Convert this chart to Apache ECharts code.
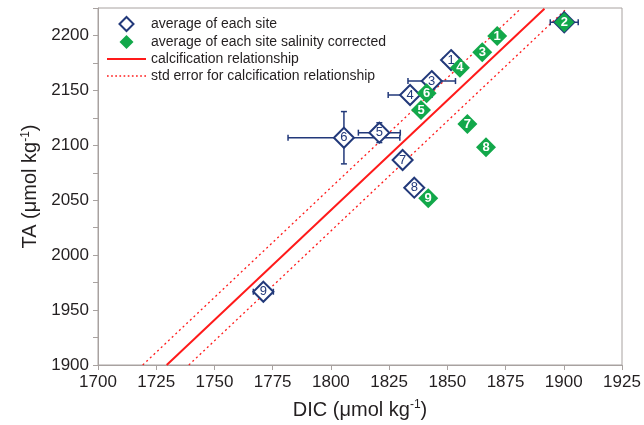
<!DOCTYPE html>
<html><head><meta charset="utf-8">
<script src="https://cdn.jsdelivr.net/npm/echarts@6/dist/echarts.min.js"></script>
<style>html,body{margin:0;padding:0;background:#fff}#c{width:644px;height:425px}</style>
</head><body><div id="c"></div>
<script>
// Site labels
const siteLabels = ['1','2','3','4','5','6','7','8','9'];
// average of each site (DIC, TA) with errors
const siteDIC = [1851.6, 1900.2, 1843.3, 1834.0, 1820.8, 1805.6, 1830.8, 1835.8, 1771.0];
const siteTA  = [2177.6, 2212.0, 2158.5, 2145.8, 2111.5, 2106.9, 2086.6, 2061.4, 1966.7];
const siteDICerr = [3.3, 6.0, 10.2, 9.4, 9.0, 24.0, 0, 0, 4.3];
const siteTAerr  = [0, 0, 0, 0, 9.0, 23.8, 0, 0, 0];
// salinity corrected
const corrDIC = [1871.4, 1900.2, 1865.0, 1855.4, 1838.7, 1841.1, 1858.6, 1866.6, 1841.8];
const corrTA  = [2199.5, 2212.0, 2184.7, 2170.6, 2132.1, 2147.3, 2119.4, 2098.2, 2051.8];
// calcification relationship and std error lines (endpoints)
const calcDIC = [1729.5, 1891.7];
const calcTA  = [1900, 2224.4];
const seUpperDIC = [1719.2, 1881.5];
const seUpperTA  = [1900, 2224.4];
const seLowerDIC = [1739.0, 1901.2];
const seLowerTA  = [1900, 2224.4];
// axes
const xMin = 1700, xMax = 1925, xStep = 25;
const yMin = 1900, yMax = 2225, yStep = 50;

const NAVY = '#22397a', GREEN = '#12a84a', RED = '#ff1a1a', AXIS = '#a8a2a0', TXT = '#231f20';
const FONT = '"Liberation Sans", Arial, Helvetica, sans-serif';

const zip = (a, b, ...rest) => a.map((v, i) => [v, b[i], ...rest.map(r => r[i])]);

// legend icons
const diamondIcon = 'path://M0,7L7,0L14,7L7,14Z';
const solidIcon = 'path://M0,0h40v2h-40z';
let dots = '';
for (let i = 0; i < 10; i++) dots += 'M' + (i * 4) + ',0h1.6v1.6h-1.6z';
const dottedIcon = 'path://' + dots;

const chart = echarts.init(document.getElementById('c'), null, {renderer: 'canvas'});
const nameStyle = {fontSize: 20, color: TXT, fontFamily: FONT,
  rich: {sup: {fontSize: 12, color: TXT, verticalAlign: 'top', padding: [0, 0, 10, 0], fontFamily: FONT}}};
const option = {
  animation: false,
  textStyle: {fontFamily: FONT},
  grid: {left: 98, right: 22, top: 8, bottom: 60, show: true, borderColor: AXIS, borderWidth: 1, backgroundColor: 'transparent'},
  xAxis: {
    type: 'value', min: xMin, max: xMax, interval: xStep,
    name: 'DIC (\u03bcmol kg{sup|-1})', nameLocation: 'middle', nameGap: 34,
    nameTextStyle: nameStyle,
    axisLine: {show: true, lineStyle: {color: AXIS, width: 1}},
    axisTick: {show: true, inside: false, length: 5, lineStyle: {color: AXIS}},
    axisLabel: {fontSize: 17, color: TXT, margin: 9, fontFamily: FONT, formatter: v => String(v)},
    splitLine: {show: false}
  },
  yAxis: {
    type: 'value', min: yMin, max: yMax, interval: yStep,
    name: 'TA (\u03bcmol kg{sup|-1})', nameLocation: 'middle', nameGap: 52,
    nameTextStyle: nameStyle,
    axisLine: {show: true, lineStyle: {color: AXIS, width: 1}},
    axisTick: {show: true, inside: false, length: 5, lineStyle: {color: AXIS}},
    minorTick: {show: true, splitNumber: 2, length: 5, lineStyle: {color: AXIS}},
    axisLabel: {fontSize: 17, color: TXT, margin: 9, fontFamily: FONT, showMaxLabel: false,
      formatter: v => (v > 2200 ? '' : String(v))},
    splitLine: {show: false}, minorSplitLine: {show: false}
  },
  legend: {
    data: [
      {name: 'average of each site', icon: diamondIcon},
      {name: 'average of each site salinity corrected', icon: diamondIcon},
      {name: 'calcification relationship', icon: solidIcon},
      {name: 'std error for calcification relationship', icon: dottedIcon}
    ],
    symbolKeepAspect: true,
    orient: 'vertical', left: 107, top: 16, itemWidth: 39, itemHeight: 14, itemGap: 3,
    textStyle: {fontSize: 14, color: TXT, fontFamily: FONT}, padding: 0, selectedMode: false
  },
  series: [
    {
      name: 'calcification relationship', type: 'line', data: zip(calcDIC, calcTA),
      symbol: 'none', lineStyle: {color: RED, width: 2}, itemStyle: {color: RED}, z: 2, silent: true
    },
    {
      name: 'std error for calcification relationship', type: 'line', data: zip(seUpperDIC, seUpperTA),
      symbol: 'none', lineStyle: {color: RED, width: 1.3, type: [2, 3]}, itemStyle: {color: RED}, z: 2, silent: true
    },
    {
      name: 'std error for calcification relationship', type: 'line', data: zip(seLowerDIC, seLowerTA),
      symbol: 'none', lineStyle: {color: RED, width: 1.3, type: [2, 3]}, itemStyle: {color: RED}, z: 2, silent: true
    },
    {
      name: 'errbars', type: 'custom', z: 3, silent: true,
      data: zip(siteDIC, siteTA, siteDICerr, siteTAerr),
      encode: {x: 0, y: 1},
      renderItem: function (params, api) {
        const x = api.value(0), y = api.value(1), xe = api.value(2), ye = api.value(3);
        const children = [];
        const st = {stroke: NAVY, lineWidth: 1.5};
        const cap = 3;
        if (xe > 0) {
          const a = api.coord([x - xe, y]), b = api.coord([x + xe, y]);
          children.push({type: 'line', shape: {x1: a[0], y1: a[1], x2: b[0], y2: b[1]}, style: st});
          children.push({type: 'line', shape: {x1: a[0], y1: a[1] - cap, x2: a[0], y2: a[1] + cap}, style: st});
          children.push({type: 'line', shape: {x1: b[0], y1: b[1] - cap, x2: b[0], y2: b[1] + cap}, style: st});
        }
        if (ye > 0) {
          const a = api.coord([x, y - ye]), b = api.coord([x, y + ye]);
          children.push({type: 'line', shape: {x1: a[0], y1: a[1], x2: b[0], y2: b[1]}, style: st});
          children.push({type: 'line', shape: {x1: a[0] - cap, y1: a[1], x2: a[0] + cap, y2: a[1]}, style: st});
          children.push({type: 'line', shape: {x1: b[0] - cap, y1: b[1], x2: b[0] + cap, y2: b[1]}, style: st});
        }
        return {type: 'group', children: children};
      }
    },
    {
      name: 'average of each site', type: 'scatter', z: 4,
      data: zip(siteDIC, siteTA, siteLabels),
      symbol: 'diamond', symbolSize: 20,
      itemStyle: {color: '#ffffff', borderColor: NAVY, borderWidth: 2, opacity: 1},
      label: {show: true, position: 'inside', formatter: p => p.value[2], color: NAVY, fontSize: 13, fontFamily: FONT}
    },
    {
      name: 'average of each site salinity corrected', type: 'scatter', z: 5,
      data: zip(corrDIC, corrTA, siteLabels),
      symbol: 'diamond', symbolSize: 20,
      itemStyle: {color: GREEN, borderColor: GREEN, borderWidth: 0, opacity: 1},
      label: {show: true, position: 'inside', formatter: p => p.value[2], color: '#ffffff', fontSize: 13, fontWeight: 'bold', fontFamily: FONT}
    }
  ]
};
chart.setOption(option);
</script>
</body></html>
